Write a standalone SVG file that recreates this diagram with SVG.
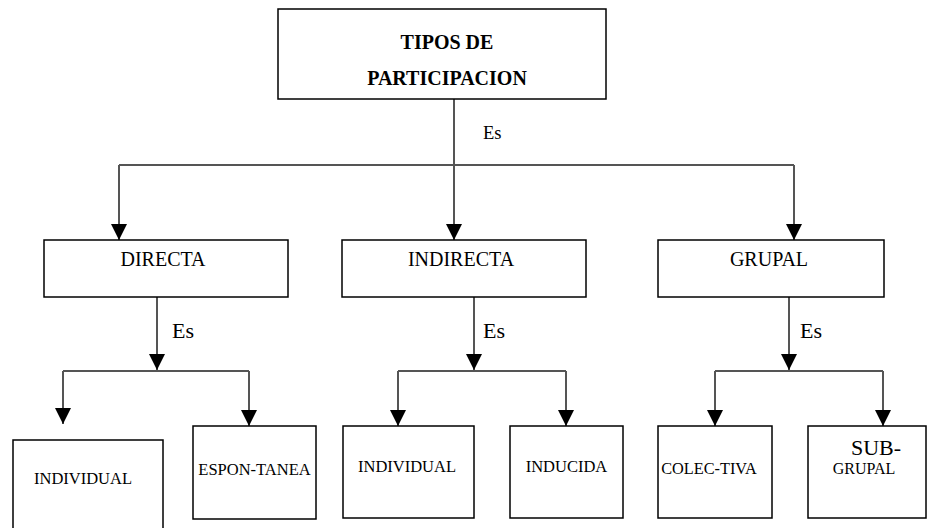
<svg xmlns="http://www.w3.org/2000/svg" width="928" height="528" viewBox="0 0 928 528" font-family="'Liberation Serif', 'Times New Roman', serif">
<style>
.box{fill:#fff;stroke:#000;stroke-width:1.5}
.c{stroke:#555;stroke-width:2;fill:none}
</style>
<defs>
<marker id="ah" markerUnits="userSpaceOnUse" markerWidth="17" markerHeight="17" refX="16" refY="8" orient="auto">
<path d="M0,0 L16,8 L0,16 z" fill="#000"/>
</marker>
</defs>
<rect width="928" height="528" fill="#fff"/>
<g id="connectors">
<path class="c" d="M454,99 V240" marker-end="url(#ah)"/>
<path class="c" d="M119,165 H794"/>
<path class="c" d="M119,165 V240" marker-end="url(#ah)"/>
<path class="c" d="M794,165 V240" marker-end="url(#ah)"/>
<path class="c" d="M157,297 V370" marker-end="url(#ah)"/>
<path class="c" d="M63,371 H249"/>
<path class="c" d="M63,371 V424" marker-end="url(#ah)"/>
<path class="c" d="M249,371 V426" marker-end="url(#ah)"/>
<path class="c" d="M474,297 V370" marker-end="url(#ah)"/>
<path class="c" d="M398,371 H566"/>
<path class="c" d="M398,371 V426" marker-end="url(#ah)"/>
<path class="c" d="M566,371 V426" marker-end="url(#ah)"/>
<path class="c" d="M789,297 V370" marker-end="url(#ah)"/>
<path class="c" d="M715,371 H883"/>
<path class="c" d="M715,371 V426" marker-end="url(#ah)"/>
<path class="c" d="M883,371 V426" marker-end="url(#ah)"/>
<text x="483" y="139" font-size="18.5">Es</text>
<text x="172" y="338" font-size="22">Es</text>
<text x="483" y="338" font-size="22">Es</text>
<text x="800" y="338" font-size="22">Es</text>
</g>
<g id="tipos">
<rect class="box" x="278" y="9" width="328" height="90"/>
<text x="447" y="49" font-size="20" font-weight="bold" text-anchor="middle">TIPOS DE</text>
<text x="447" y="85" font-size="20" font-weight="bold" text-anchor="middle">PARTICIPACION</text>
</g>
<g id="directa">
<rect class="box" x="44" y="240" width="244" height="57"/>
<text x="163" y="266" font-size="20" text-anchor="middle">DIRECTA</text>
</g>
<g id="indirecta">
<rect class="box" x="342" y="240" width="244" height="57"/>
<text x="461" y="266" font-size="20" text-anchor="middle">INDIRECTA</text>
</g>
<g id="grupal">
<rect class="box" x="658" y="240" width="226" height="57"/>
<text x="769" y="266" font-size="20" text-anchor="middle">GRUPAL</text>
</g>
<g id="individual1">
<rect class="box" x="13" y="440" width="150" height="95"/>
<text x="83" y="484" font-size="16.5" text-anchor="middle">INDIVIDUAL</text>
</g>
<g id="espontanea">
<rect class="box" x="193" y="426" width="123" height="93"/>
<text x="254.5" y="475" font-size="16.5" text-anchor="middle">ESPON-TANEA</text>
</g>
<g id="individual2">
<rect class="box" x="343" y="426" width="131" height="92"/>
<text x="407" y="472" font-size="16.5" text-anchor="middle">INDIVIDUAL</text>
</g>
<g id="inducida">
<rect class="box" x="510" y="426" width="113" height="92"/>
<text x="566.5" y="472" font-size="16.5" text-anchor="middle">INDUCIDA</text>
</g>
<g id="colectiva">
<rect class="box" x="658" y="426" width="114" height="92"/>
<text x="709" y="474" font-size="16.3" text-anchor="middle">COLEC-TIVA</text>
</g>
<g id="subgrupal">
<rect class="box" x="808" y="426" width="118" height="92"/>
<text x="876" y="455" font-size="22" text-anchor="middle">SUB-</text>
<text x="864" y="474" font-size="16" text-anchor="middle">GRUPAL</text>
</g>
</svg>
